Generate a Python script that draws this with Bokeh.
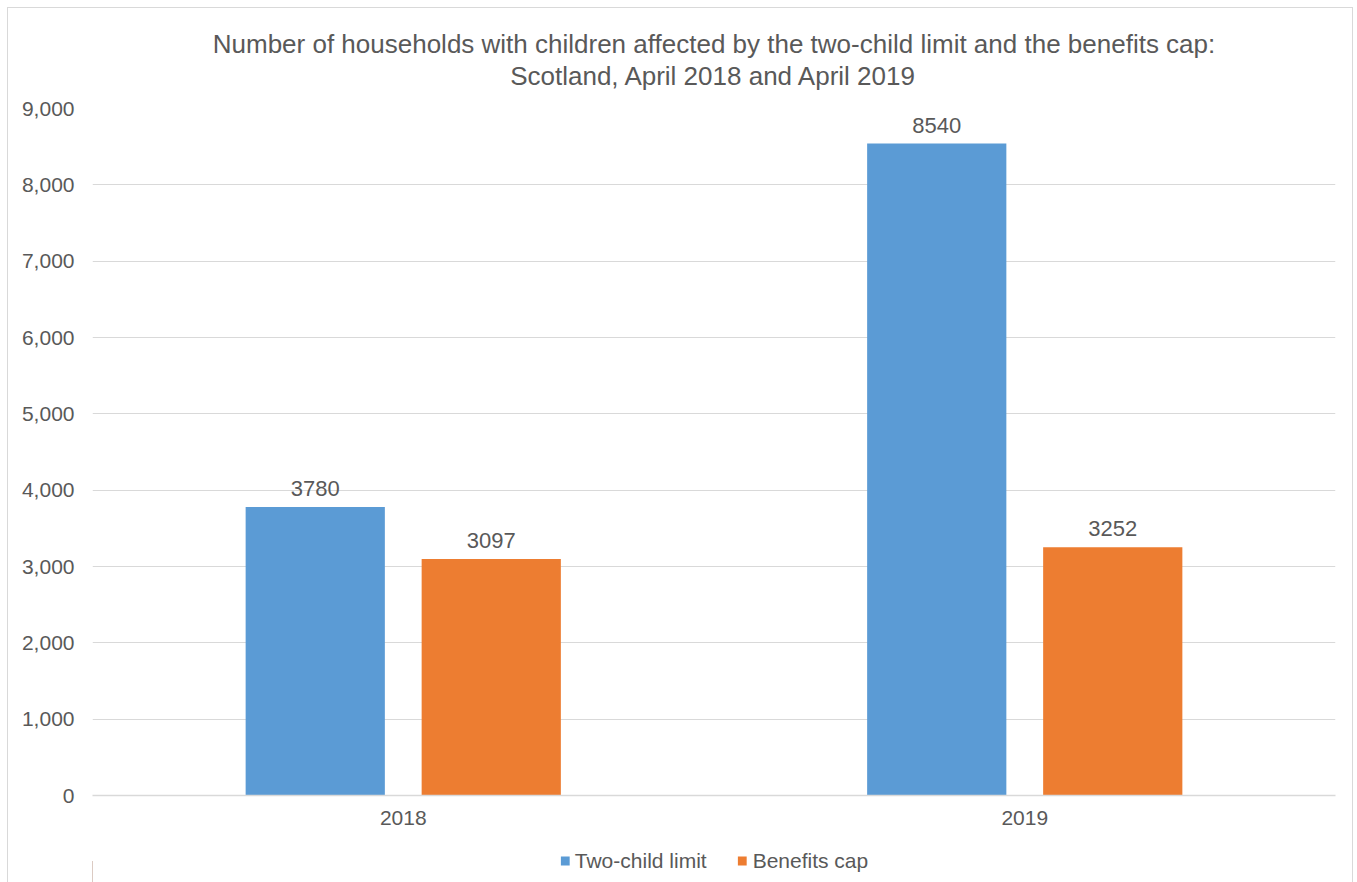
from bokeh.plotting import figure
from bokeh.layouts import column
from bokeh.models import (ColumnDataSource, Legend, LegendItem, Title, NumeralTickFormatter,
                          LabelSet, FixedTicker, Range1d)
from bokeh.core.properties import value
from bokeh.transform import dodge
from bokeh.embed import file_html
from bokeh.resources import INLINE

years = ["2018", "2019"]
two_child = [3780, 8540]
benefits_cap = [3097, 3252]
series_names = ["Two-child limit", "Benefits cap"]
colors = ["#5B9BD5", "#ED7D31"]
y_ticks = [0, 1000, 2000, 3000, 4000, 5000, 6000, 7000, 8000, 9000]

FONT = "Liberation Sans"
TXT = "#595959"

src = ColumnDataSource(dict(
    year=years, tc=two_child, bc=benefits_cap,
    tc_lab=[str(v) for v in two_child], bc_lab=[str(v) for v in benefits_cap],
))

p = figure(x_range=years, y_range=(0, 9000), frame_width=1243, frame_height=687,
           output_backend="svg", toolbar_location=None,
           min_border_left=84, min_border_right=17, min_border_top=92, min_border_bottom=44)

off = 0.1416
bw = 0.224
r1 = p.vbar(x=dodge("year", -off, range=p.x_range), top="tc", width=bw, source=src,
            fill_color=colors[0], line_color=None)
r2 = p.vbar(x=dodge("year", off, range=p.x_range), top="bc", width=bw, source=src,
            fill_color=colors[1], line_color=None)

for xo, col in [(-off, "tc"), (off, "bc")]:
    lab = LabelSet(x=dodge("year", xo, range=p.x_range), y=col, text=col + "_lab", source=src,
                   text_align="center", text_baseline="bottom", y_offset=11,
                   text_font=value(FONT), text_font_size=value("22px"), text_color=value(TXT))
    p.add_layout(lab)

p.yaxis.ticker = FixedTicker(ticks=y_ticks)
p.yaxis.formatter = NumeralTickFormatter(format="0,0")
p.yaxis.axis_line_color = None
p.yaxis.major_tick_line_color = None
p.yaxis.major_tick_out = 0
p.yaxis.minor_tick_line_color = None
p.yaxis.major_label_text_font = FONT
p.yaxis.major_label_text_font_size = "21px"
p.yaxis.major_label_text_color = TXT
p.yaxis.major_label_standoff = 18

p.xaxis.axis_line_color = "#d9d9d9"
p.xaxis.axis_line_width = 1.5
p.xaxis.major_tick_line_color = None
p.xaxis.major_tick_out = 0
p.xaxis.major_tick_in = 0
p.xaxis.minor_tick_line_color = None
p.xaxis.minor_tick_out = 0
p.xaxis.major_label_text_font = FONT
p.xaxis.major_label_text_font_size = "21px"
p.xaxis.major_label_text_color = TXT
p.xaxis.major_label_standoff = 15

p.xgrid.grid_line_color = None
p.ygrid.grid_line_color = "#d9d9d9"
p.ygrid.grid_line_width = 1.2
p.outline_line_color = None

t1 = Title(text="Number of households with children affected by the two-child limit and the benefits cap:\nScotland, April 2018 and April 2019",
           align="center", text_align="center", text_font=FONT, text_font_size="26px",
           text_font_style="normal", text_color=TXT, text_line_height=1.05, standoff=36)
p.add_layout(t1, "above")

# Legend strip below the chart (separate small figure so the legend sits centred under it)
p2 = figure(width=1344, height=43, x_range=Range1d(0, 1), y_range=Range1d(0, 1),
            x_axis_type=None, y_axis_type=None, output_backend="svg", toolbar_location=None,
            min_border_left=0, min_border_right=0, min_border_top=0, min_border_bottom=0)
p2.outline_line_color = None
p2.grid.visible = False
# legend-only glyphs placed outside the visible range
g1 = p2.vbar(x=[-10], top=[0.5], width=0.1, fill_color=colors[0], line_color=None)
g2 = p2.vbar(x=[-10], top=[0.5], width=0.1, fill_color=colors[1], line_color=None)
legend = Legend(items=[LegendItem(label=series_names[0], renderers=[g1]),
                       LegendItem(label=series_names[1], renderers=[g2])],
                orientation="horizontal", location="center",
                label_text_font=FONT, label_text_font_size="21px", label_text_color=TXT,
                label_height=20, glyph_width=11, glyph_height=11, spacing=30, label_standoff=5,
                border_line_color=None, background_fill_alpha=0, padding=2, margin=0)
p2.add_layout(legend, "center")

layout = column(p, p2, spacing=0)
layout.styles = {"margin": "7px 0 0 7px", "border-style": "solid", "border-color": "#d9d9d9",
                 "border-width": "1px 1px 0 1px"}

open("out.html", "w").write(file_html(layout, INLINE))
